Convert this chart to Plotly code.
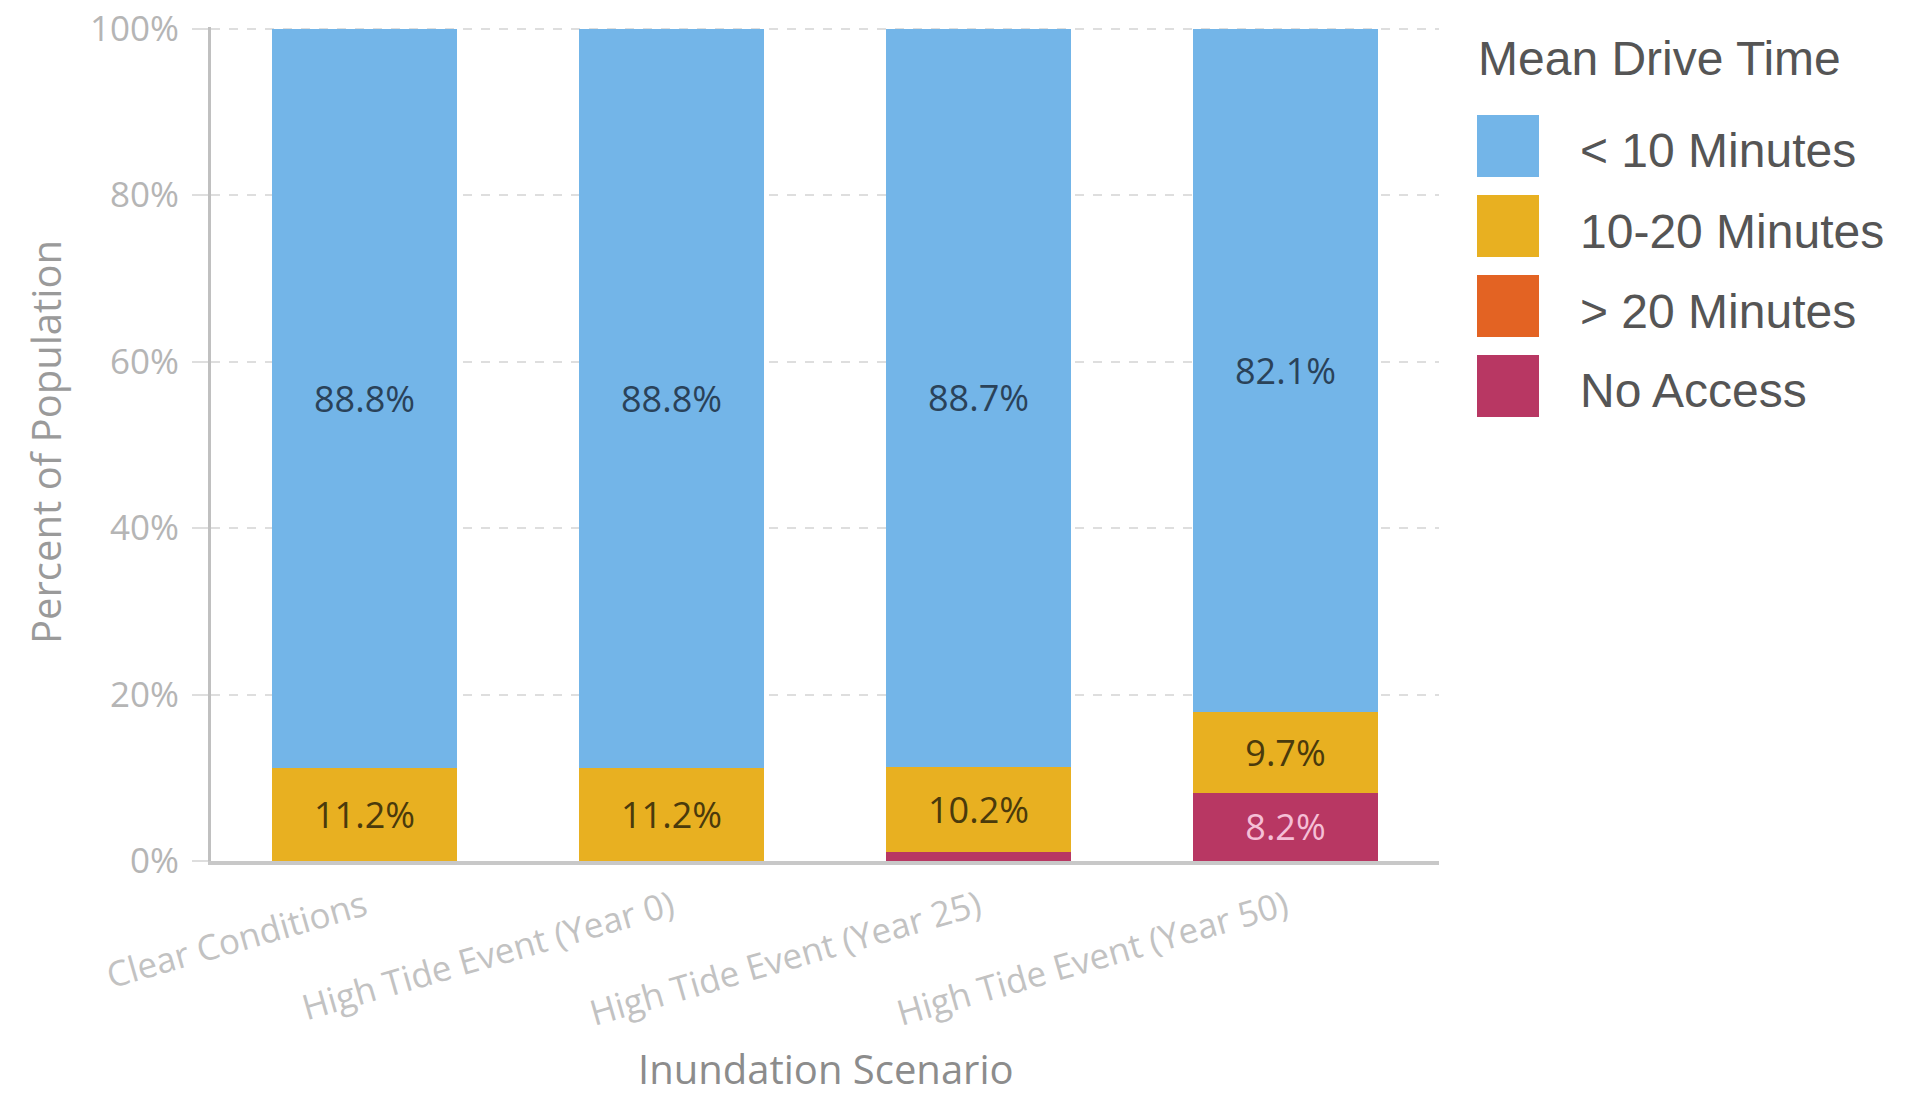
import plotly.graph_objects as go

categories = ["Clear Conditions", "High Tide Event (Year 0)", "High Tide Event (Year 25)", "High Tide Event (Year 50)"]
under_10 = [88.8, 88.8, 88.7, 82.1]
min_10_20 = [11.2, 11.2, 10.2, 9.7]
over_20 = [0.0, 0.0, 0.0, 0.0]
no_access = [0.0, 0.0, 1.1, 8.2]
y_ticks = [0, 20, 40, 60, 80, 100]
y_tick_labels = ["0%", "20%", "40%", "60%", "80%", "100%"]

series = [
    ("No Access", no_access, "#b83763", "#f5bfd6"),
    ("> 20 Minutes", over_20, "#e36323", "#3a1a08"),
    ("10-20 Minutes", min_10_20, "#e8b021", "#4a3a0c"),
    ("< 10 Minutes", under_10, "#73b5e8", "#2a4259"),
]

# plot area in pixels
L, R, T, B = 211, 1439, 27, 861
W, H = 1913, 1097

fig = go.Figure()
for name, vals, col, tcol in series:
    fig.add_trace(go.Bar(
        x=categories, y=vals, name=name, width=0.6,
        marker=dict(color=col, line=dict(width=0)),
        text=[f"{v:.1f}%" if v >= 5 else "" for v in vals],
        textposition="inside", insidetextanchor="middle", textangle=0,
        constraintext="none",
        textfont=dict(family="Open Sans", size=36, color=tcol),
        showlegend=False,
    ))

def px(x):
    return (x - L) / (R - L)

def py(y):
    return (B - y) / (B - T)

shapes = []
annotations = []
# legend
annotations.append(dict(text="Mean Drive Time", x=px(1476), y=py(59), xref="paper", yref="paper",
                        xanchor="left", yanchor="middle", showarrow=False,
                        font=dict(family="Liberation Sans, Arial", size=48, color="#555555")))
legend_items = list(reversed(series))
for i, (name, vals, col, tcol) in enumerate(legend_items):
    top = 115 + 80 * i
    shapes.append(dict(type="rect", xref="paper", yref="paper",
                       x0=px(1477), x1=px(1539), y0=py(top + 62), y1=py(top),
                       fillcolor=col, line=dict(width=0)))
    annotations.append(dict(text=name, x=px(1578), y=py(top + 36), xref="paper", yref="paper",
                            xanchor="left", yanchor="middle", showarrow=False,
                            font=dict(family="Liberation Sans, Arial", size=48, color="#555555")))

# axis titles
annotations.append(dict(text="Percent of Population", x=px(45), y=py(442), xref="paper", yref="paper",
                        textangle=-90, xanchor="center", yanchor="middle", showarrow=False,
                        font=dict(family="Open Sans", size=40, color="#9a9a9a")))
annotations.append(dict(text="Inundation Scenario", x=px(826), y=py(1068), xref="paper", yref="paper",
                        xanchor="center", yanchor="middle", showarrow=False,
                        font=dict(family="Open Sans", size=40, color="#8c8c8c")))

fig.update_layout(
    width=W, height=H,
    margin=dict(l=L, r=W - R, t=T, b=H - B, autoexpand=False),
    barmode="stack", bargap=0.4,
    plot_bgcolor="white", paper_bgcolor="white",
    shapes=shapes, annotations=annotations,
    showlegend=False,
    font=dict(family="Open Sans"),
)
fig.update_xaxes(
    range=[-0.5, 3.5], tickangle=-16, showgrid=False,
    showline=True, linecolor="#c8c8c8", linewidth=4,
    tickfont=dict(family="Open Sans", size=35, color="#c2c2c2"),
    ticks="", ticklabelstandoff=8,
)
fig.update_yaxes(
    range=[0, 100.2], tickmode="array", tickvals=y_ticks, ticktext=y_tick_labels,
    showgrid=True, gridcolor="#dedede", griddash="dash", gridwidth=2,
    showline=True, linecolor="#c0c0c0", linewidth=3,
    ticks="outside", ticklen=16, tickcolor="#dedede", tickwidth=2,
    tickfont=dict(family="Open Sans", size=35, color="#b5b5b5"),
    zeroline=False, ticklabelstandoff=6,
)
fig.write_html("out.html")
